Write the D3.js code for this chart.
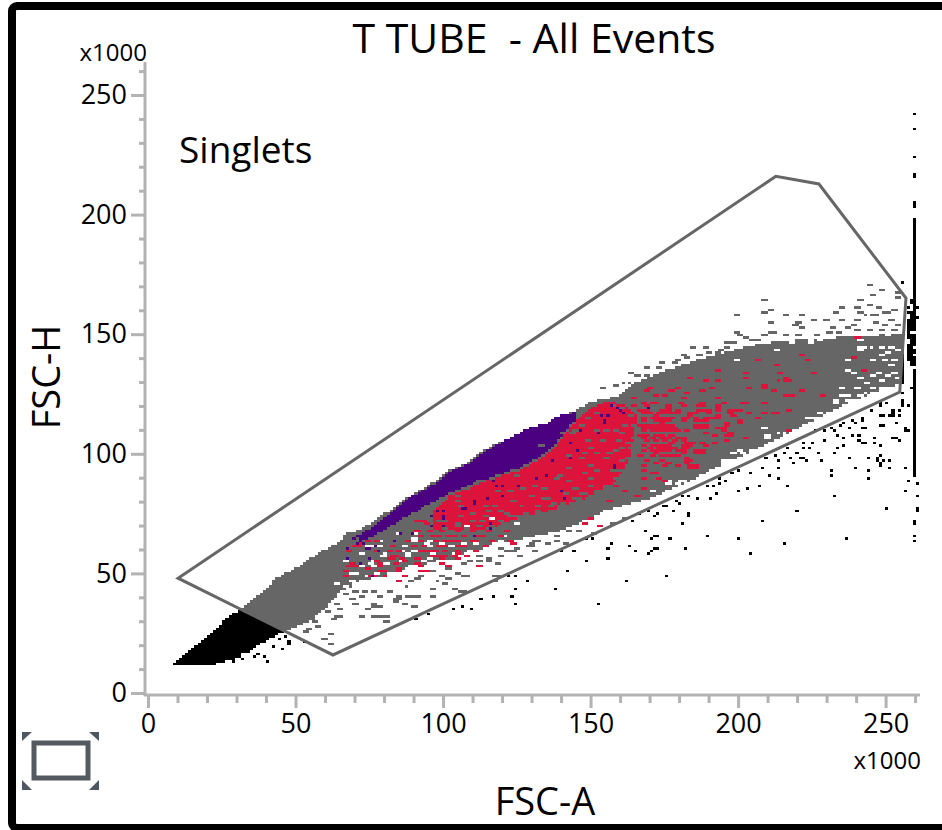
<!DOCTYPE html>
<html>
<head>
<meta charset="utf-8">
<script src="https://cdn.jsdelivr.net/npm/d3@7"></script>
<style>
html, body { margin: 0; padding: 0; background: #fff; }
svg { display: block; }
text { font-family: "Open Sans", "Noto Sans", sans-serif; fill: #000; white-space: pre; }
.axis path { display: none; }
.axis line { stroke: #b3b3b3; stroke-width: 3; }
.axis text { font-size: 27px; font-family: "Open Sans", "Noto Sans", sans-serif; fill: #000; }
</style>
</head>
<body>
<svg id="plot" width="942" height="830"></svg>
<script>
// all values in thousands (FSC-A, FSC-H)
var titleText = 'T TUBE  - All Events';
var gateName = 'Singlets';
var xLabel = 'FSC-A';
var yLabel = 'FSC-H';
var scaleNote = 'x1000';
var majorTicks = [0, 50, 100, 150, 200, 250];
var minorTicks = [10, 20, 30, 40, 60, 70, 80, 90, 110, 120, 130, 140, 160, 170, 180, 190, 210, 220, 230, 240, 260];

var gate = [[10.2, 48], [212.8, 216], [227.4, 212.8], [256.9, 165.1], [254.8, 125.8], [62.7, 15.9]];

// outline of the solid cloud of events
var cloudTop = [[8.1, 11.7], [10.8, 14.2], [14.2, 18], [17.6, 21.3], [21, 25.1], [24.4, 28.4], [27.8, 32.6], [31.2, 34.7], [34.6, 38], [38, 41.8],
  [43.7, 48.1], [49.1, 51.4], [58.3, 58.9], [64, 62.7], [67.8, 66.9], [71.8, 68.1], [82, 76.5], [87.8, 81.5], [92.2, 84.9], [99, 89.9],
  [102.3, 93.2], [110.1, 97.4], [113.5, 101.6], [121.7, 105.8], [128.4, 110], [135.2, 112.9], [139.6, 116.2], [144, 117.5], [148.8, 121.2], [160, 124.6],
  [164.4, 129.6], [175.9, 135], [189.4, 140.5], [204, 145], [216.5, 147.5], [232.1, 148.5], [252.5, 150], [255.8, 150]];
var cloudBottom = [[8.1, 11.7], [22, 11.7], [31.2, 15], [36.9, 19.2], [44.7, 25.1], [53.9, 29.3], [60.7, 36.4], [65, 42.2], [71.8, 46], [78.6, 48.5],
  [85.4, 51.4], [95.6, 54.3], [106.7, 56.9], [118.3, 62.7], [129.4, 65.2], [140.6, 68.1], [155.5, 76.5], [171.1, 81.9], [187.1, 90.7], [198.2, 97.4],
  [209.8, 104.1], [220.9, 110.8], [232.1, 118.3], [243.6, 124.6], [253.8, 128.8], [255.8, 128.8]];

var purpleTop = [[71, 66], [76.2, 69.4], [82, 75.3], [87.8, 81.5], [92.2, 84], [99, 89], [102.3, 92.4], [110.1, 96.6], [113.5, 100.8], [121.7, 105.8], [128.4, 110.4], [135.2, 112.9], [139.6, 116.2], [145.4, 117.5]];
var purpleBottom = [[72, 63], [78.6, 67], [84.4, 71.5], [93.2, 77.8], [102.3, 83.6], [110.1, 87.8], [118.3, 91.1], [126.1, 94.1], [132.8, 98.7], [137.2, 102.8], [142, 110], [145.4, 115]];

var redTop = [[97, 76], [102.3, 82.5], [110.1, 86.8], [118.3, 90.1], [126.1, 93.1], [132.8, 97.7], [137.2, 101.8], [142, 109], [145.4, 114], [150, 119], [156, 122], [162, 120], [166, 116]];
var redBottom = [[97, 68], [103.4, 68.1], [110.1, 68.1], [118.3, 69.4], [126.1, 73.6], [137.2, 76.5], [148.8, 81.9], [158, 88], [163, 97], [166, 116]];

var stripCol = [[260.2, 90.3, 196.5]];
var blobCols = [[257.3, 139, 156], [258.3, 138, 158], [259.3, 137, 160]];

// single events outside the solid cloud, grey inside the gate, black outside
var looseEvents = [
  [250.9,121.8],[256,121.4],[248,120.4],[244.7,118.3],[252.6,117.6],[254.8,118.3],[248,115.8],[249.2,115.8],[251.4,116.2],[242.4,114.8],[239,113.4],[240.2,113],[253.7,113],[248,112],[249.2,112],[234.5,112],[235.6,112.5],[242.4,110.6],[237.9,110.6],[231.1,110.6],[232.2,109.5],[228.9,110],[257.1,110],[226,109.3],[238.5,107.9],[241.3,108.1],[233.4,107.2],[235.6,106.9],[245.8,106.9],[253.1,106.9],[254.3,105.8],[241.3,105.8],[242.4,104.4],[228.9,105.8],[222,104.4],[224.9,104.7],[235.6,103.3],[245.8,104.4],[248,103.3],[222,102.3],[219.8,100.2],[216.4,101.9],[224.1,101.9],[233.9,101.9],[227.5,100.6],[232.8,100.6],[215.3,100.6],[213,99.5],[248,99.5],[209.6,98.1],[217.6,98.1],[220.9,98.1],[222,98.1],[237.3,98.1],[243.8,98.1],[246.9,98.1],[246.9,96.7],[214.2,96.7],[218.7,96],[223.2,96.7],[228.6,96.7],[249.2,96.7],[251.4,96.7],[248,95.3],[208.7,94.3],[214.2,94.3],[240.4,94.3],[251.2,94.3],[256.6,94.3],[200.4,93],[231.7,93],[243.8,93],[204.7,91.5],[198.1,91.5],[231.7,91],[210.1,90.4],[213.3,89.6],[243.8,89.6],[193.8,89.9],[196.1,89],[257.7,88.5],[193.8,87.4],[191.6,86.5],[189.3,86.5],[207.8,87.1],[216.6,87.1],[203.4,85.6],[200.4,84.2],[256.6,84.9],[192.7,83.5],[180.8,82.4],[183.1,82.1],[232.9,82.1],[186.1,81],[190.5,81],[178.6,80],[179.7,79.6],[175.3,78.4],[169.9,76.1],[177.7,75.8],[219.7,75.8],[250.2,77.2],[172.2,74.5],[183.1,74.5],[208.7,72],[180.7,70.9],[168.7,67.7],[172.2,66],[171,65],[176.5,65],[189.5,66],[200.4,65],[237.2,65],[215.5,62.6],[172.2,60],[182,60],[169.9,58.8],[204.7,58.8],
  [95.3,32.8],[102.9,35.3],[106.1,36.6],[109.4,35.3],[112.8,39.1],[116.8,40.2],[123.5,40.2],[124.5,37.8],[152.7,37.8],[116.8,46.2],[118.1,48.9],[122.4,48.9],[124.5,48.9],[128.9,46.2],[124.5,43.7],[138.5,43.7],[162.5,46.2],[175.4,48.9],[141.9,51.4],[127.8,52.8],[148.1,55.1],[156,56.2],[139.7,58.9],[144,58.9],[156,60],[157.2,62.5],[163.6,61.4],[165.7,58.9],[170.2,58.9],[172.4,60],[182,60],[150.6,65],[169,67.8],[171.1,65],[172.4,66],[176.7,65],[189.6,66],[180.9,70.9],[164.5,72],[183.2,74.6],[172.4,74.6],[169.9,75.9],[177.7,75.9],[166.8,74.6],[175.4,78.5],[161.4,73.4],[157.2,70.9],[186.2,80.9],[190.5,80.9],[179.2,80.6],[180.9,82.3],[183.2,82.3],[192.8,83.4],[189.4,86.9],[191.6,86.9],
  [260.2,241.6],[260.2,235.4],[260.2,224],[260.2,216.5],[260.2,215.5],[260.2,205],[260.2,204],[260.2,203],[260.2,198],[260.5,87.4],[260.5,82],[260.5,77],[260.5,76],[259.4,71.5],[259.4,70.5],[259.4,66],[259.4,64],
  [259.4,131.5],[258.3,128],[259.4,128.7],[256,125.9],[259.9,122.7],[256,122.4],[255.4,120.3],[257.7,120.3],[250.9,121.7],[248.1,121],[252,118.3],[254.9,118.3],[260.3,118.3],[248.1,115.5],[252,116.2],[254.6,115.5],[242.4,114.4],[253.5,113],[248.3,111.8],[256.6,110.6],[257.7,109.2],[242.7,110.6],[241.3,107.8],[245.8,106.8],[252.6,106.8],[254.6,105.4],[245.8,104.3],[242.7,104.3],[248.1,102.9],[260.3,101.8],[243.8,98],[247,98],[248.1,99.4],[248.1,95.7],[251.5,96.8],[251.2,94.3],[256.7,94.3],[243.8,93.2],[243.8,89.7],[257.7,88.4],[256.7,84.8],[250.3,77.1],
  [255.6,172.2],[258.9,163.8],[257.8,161.2],[261,161.2],[259.2,163.7],[257.8,158.7],[259.2,157.3],[261,157.3],
  [42.3,19.1],[45.4,18],[47.6,21.5],[48.2,20.8],[38.9,15.5],[40,13],[35.7,15.5],[37.1,16.6],[29.2,13],[26.9,14.1],[31.2,15.2],[32.3,14.1],[52.7,21.4],[44.2,22.2],[47,23.5],[91.1,30.5],
  [65.1,34.7],[63.4,37.5],[68.5,38.9],[71.9,40.3],[73.6,34.7],[65.1,31.9],[76.4,37.5],[78.7,36.1],[83.2,38.9],[84.3,39.6],[87.7,40.3],[90,40.3],[87.1,37.5],[79.8,31.9],[80.9,42.4],[76.4,43],[73,43],[70.2,43],[66.2,41.7],[86.6,45.1],[91.1,47.9],[88.8,47.2],[92.2,48.6],[95.6,43.8],[101.8,47.9],[99,49.3],[104.1,50],[105.8,42.8],[108,49.3],[117.1,49.3],[117.1,47.2],[96.2,50.7],[101.3,52.1],[106.3,54.2],[108.6,54.9],[111.4,57.7],[114.8,55.6],[118.8,57],[118.2,54.2],[121.6,59.8],[125.5,57.7],[124.4,60.5],[129.5,62.6],[131.8,63.3],[135.2,62.6],[138.5,63.3],[130.6,59.8],[128.4,61.2],
  [95.6,43.7],[96.2,40.2],[106.3,42.3],[102.9,43.7],[100.1,45.8],[106.3,49.3],[97.9,47.2],[108.6,55.5],[112,55.5],[115.4,56.2],[119.1,56.9],[111.4,57.6],[125.5,57.6],[123.8,59.7],[119.3,60.4],[129.5,61.1],[135.1,62.5],[138.5,63.2],[140.8,62.5],[131.2,63.2],[145.3,67.4],[148.7,64.6],[138.5,66],[141.9,67.4],[150.4,66.7],
  [58.9,22.8],[61.7,24.2],[61.7,20.3],[54.9,31.2],[52.7,25.6],[57.2,27.7],[56.1,29.8],[53.8,27],[64,31.9],[62.3,30.5],[60.6,34],[64,37.5],[61.1,43],[71.9,31.9],[75.8,31.9],[78.1,31.9],[80.4,29.8],[80.4,31.9],[73.6,34.7],[76.4,36.1],[69.6,37.5],[84.3,40.3],[86.6,37.5],[83.2,38.2],[87.7,40.3],[90,36.1],[78.7,40.3],[91.1,40.3],
  [207.9,163.8],[208,158.8],[210,160.2],[199.3,157.6],[215.6,157.6],[221,157.6],[225.3,156.3],[210,155],[219.9,155],[229.7,156.3],[235.1,161.3],[240.5,163.8],[243.7,162.7],[245,166.4],[243.7,170.2],[248.1,168.8],[253.5,167.4],[253.5,165],[233,158.8],[239.4,161.3],[240.5,158.8],[247,161.3],[252.3,160.2],[249.3,158.8],[250.4,158.8],[245.9,157.6],[243.6,157.6],[240.4,156.3],[235.1,156.3],[251.3,156.3],[238.5,153.7],[236.3,152.5],[245.9,154.9],[249.3,153.7],[253.8,153.7],[218.7,153.7],[221,152.5],[231.2,152.5],[230,151.1],[199.3,151.1],[200.4,149.7],[210.8,151.1],[212,150.4],[208.6,149.7],[202.5,148.7],[204.6,147.6],[196.1,146.2],[196.1,144.1],[198.4,146.2],[192.8,142.7],[184.3,144.1],[188.6,144.1],[186.5,141.3],[180.9,141.3],[179.2,139.2],[173.5,137.9],[172.4,135.8],[169,135.8],[162.8,133.9],[165.1,132.3],[168.5,132.3],[161.7,130.2],[158.3,128.8],[153.8,127.4],
  [234,151],[240,152],[244,151.5],[248,152],[252,151.5],[226,150],[216,149.5],[220,150],[206,147],[194,143],[178,138],[182,140],[190,142.5]
];

// gaps inside the cloud
var whiteSpecks = [
  [224.4,146.2],[218.2,146.2],[213.1,143.4],[199,139.2],[241.3,143.4],[243.6,144.8],[248.7,141.3],[250.4,142.7],[252.6,139.2],[253.8,143.4],[251.5,136.5],[236.3,135.1],[240.8,131.6],[243,129.5],[244.7,133],[248.1,130.9],[250.4,132.3],[253.8,131.6],[240.2,128],[243.6,125.3],[241.3,124.6],[248.7,128],[252.6,128],[236.8,123.9],[234.6,124.6],[232.3,121.8],[239.1,122.5],[241.3,120.4],[234.6,119],[231.2,117.6],[228.9,114.1],[226.7,112],[225.5,114.9],[222.1,111.4],[224.4,109.3],[219.9,107.2],[209.7,107.2],[208.6,110.7],[218.7,110],[214.2,104.4],[213.1,101.6],[209.1,102.3],[204,101.6],[200.7,100.2],[198.4,100.2],[201.2,97.4],[194.4,96],[195,93.2],[198.4,93.2],[201.8,96.7],[187.1,90.4],[181.5,86.3],[179.2,87.7],[175.8,89],[170.2,84.9],[176.9,84.9],
  [241.3,144.8],[248.1,144.8],[251.5,144.8],[236.8,139.2],[244.7,139.2],[249.3,139.2],[239.1,133.7],[247,133.7],[252.6,133.7],[234.6,128],[244.7,128],[250.4,128],[232.3,122.5],[236.8,122.5],[243.6,122.5],[217.6,147.6],[224.4,147.6],[227.8,147.6],[241.3,147.6],[224.4,149.7],[250.4,149.7],
  [63.4,45.8],[67.4,43.8],[69.6,45.8],[71.9,47.2],[68.5,50],[72.4,47.2],[74.1,49.3],[76.4,47.9],[79.2,47.2],[82,50],[84.9,49.3],[80.3,54.2],[75.3,54.2],[88.3,50.7],[90.5,53.5],[87.7,57],[79.2,57.7],[90,59.8],[94.5,56.3],[97.9,54.9],[99.6,54.2],[104.1,57.7],[106.3,57.7],[103.5,61.2],[108.6,59.8],[106.9,62.6],[110.3,62.6],[99,62.6],[93.9,62.6],[86,59.8],[75.3,61.9],[78,64],[87.1,61.9],[91.1,67.5],[90,64.7],[112,65.4],[111.4,59.8],[117.1,62.6],[118.8,63.3],
  [107.5,69.5],[115.9,73],[123.9,70.9],[120.5,65.4],[126.1,73.7],
  [74.1,61.2],[78.7,61.2],[86.6,61.2],[94.5,61.2],[101.3,61.2],[71.9,58.4],[79.8,58.4],[87.7,58.4],[95.6,58.4],[103.5,58.4],[108,58.4],[66.2,55.6],[76.4,55.6],[85.4,55.6],[93.4,55.6],[101.3,55.6],[106.9,55.6],[71.9,52.8],[76.4,52.8],[88.8,52.8],[94.5,52.8],[99,52.8],[104.7,52.8],[69.6,50],[77.5,50],[80.9,50],[88.8,50],[95.6,50],[102.4,50],[68.5,47.2],[73,47.2],[79.8,47.2],[86.6,47.2],[93.4,47.2],[99,47.2],[66.8,44.4],[70.8,44.4],[78.7,44.4],[85.4,44.4],[90,64],[94.5,64],[84.3,66.8],[90,66.8],
  [195,96.7],[197.2,96.7],[193.8,93.9],[191,92.5],[187,89],[181.4,88.3],[183.7,87.6],[176.3,87.6],[179.7,88.3],[170.1,84.9],[172.4,82],[170.1,80.7],[199.5,101.6],[205.1,100.9],[208.5,110.6],[209.6,106.9],[213,104.4],[214.2,108.6],[219.8,107.2],[222,111.3],[225.5,112],[223.2,114.8],[227.7,116.9],[232.8,121.1],[234.5,118.3],[237.9,121.1],
  [38,20.8],[36.9,18.7],[34.6,16.3],[32.3,16.6],[39.1,18.7],
  [258.3,150.6],[259.4,144.8],[257.2,147.7],[257.2,146.6],[259.4,141]
];

var greySpecks = [
  [104.7,80.7],[108,85.6],[111.4,88.4],[104.1,82.1],[130.6,86.3],[141.9,88.4],[134,81.4],[137.4,79.3],[131.8,78.6],[146.5,83.5],[149.3,89.8],[152.1,92.6],[154.4,98.1],[148.2,105.8],[144.2,110],[139.7,108.6],[155.5,86.3],[157.8,87.7],[151,82.1],[154.4,82.1],[158.9,82.1],[144.2,77.9],[138.6,77.9],[132.9,75.1],[126.1,73.7],[121.6,75.1],[117.1,77.9],[113.7,73.7],[109.2,72.3],[104.7,70.9],[112.6,71.6],[119.3,71.6],[128.4,70.9],[136.3,72.3],[141.9,75.1],[148.7,77.9],[156.6,78.6],[158.9,93.2],[158.9,105.8],[141.9,98.8],[132.9,103],[123.9,90.5],
  [131.8,78.5],[134.6,81.3],[145.3,81.3],[152.1,82],[156,79.2],[160,82],[140.8,83.4],[128.4,72.3],[122.7,74.4],[119.3,75.8],[137.4,76.5],[149.8,86.2],[143,75.1],
  [160.5,108.6],[165,108.6],[165.6,104.4],[163.4,97.4],[160,97.4],[156.6,93.2],[159,89],[157.7,101.6],[161,112],[162,104],[155,110],[152,100],[150,95],[147,92],[144,86],[139,91],[127,86],[123,80],[115,76],[106,74],[100,72],
  [100,69],[104,69.5],[108,69],[112,70],[116,70],[120,71],[124,74],[128,75],[132,76],[136,78],[140,79],[144,81],[148,83],[152,85],[155,87],[158,90],[160,93],[162,98],[163,102],[164,107],[164,112],[163,116],[160,119],[157,120.5],[152,117.5],[149,115],[146,112],[143,109],
  [110,75],[114,78],[118,84],[122,84],[126,78],[130,82],[134,86],[138,90],[142,94],[146,98],[150,102],[154,106],[158,110],[152,110],[148,100],[156,100],[160,102],[105,78],[100,76],[98,72]
];

// red events by row: [FSC-H, [FSC-A ...]]
var redRows = [
  [121.8, [167.8, 170.1, 171.8, 180.3, 187, 195, 201.2, 208.5]],
  [120.4, [168.4, 176.3, 181.4, 185.9, 192.7]],
  [118.3, [166.7, 169, 173.5, 175.7, 178.6, 186.5, 189.9, 192.7, 197.2, 199.5, 216.4]],
  [116.9, [167.8, 169.5, 172.4, 176.3, 179.1, 183.1, 185.3, 189.9, 197.2, 203.4, 207.9, 211.9]],
  [114.8, [167.3, 170.1, 172.4, 174.6, 176.9, 180.8, 182.5, 184.8, 188.2, 191, 192.7, 206.8]],
  [113.4, [167.8, 171.2, 173.5, 176.3, 181.4, 185.3, 187, 188.2, 200]],
  [112.1, [166.7, 168.4, 170.1, 172.9, 175.2, 177.4, 185.3, 187, 188.2, 196.1]],
  [110.6, [167.3, 169.5, 171.8, 174, 176.3, 178, 185.3, 187, 192.7, 195]],
  [109.3, [167.8, 170.7, 172.9, 175.2, 178.6, 182]],
  [107.9, [166.7, 169, 171.8, 174, 176.9, 191.6, 196.6]],
  [106.5, [167.8, 170.1, 173.5, 176.3, 178.6, 181.4]],
  [105.1, [169, 171.8, 174.6, 178, 181.4, 196.1]],
  [103.7, [167.3, 170.1, 172.9, 176.3, 181.4, 183.1]],
  [102.3, [169.5, 172.4, 175.2, 178, 180.8]],
  [100.9, [167.8, 170.7, 173.5, 176.3, 180.8, 187.6, 184.8]],
  [99.5, [166.7, 170.1, 173.5, 175.2, 176.9]],
  [97.4, [168.4, 174, 182]],
  [96, [171.2, 176.3, 182.5]],
  [94.6, [167.3, 175.2, 178.6, 183.1, 184.8]],
  [92.1, [170.1, 171.2]],
  [89.7, [167.8, 172.4]],
  [86, [167.8]],
  [75.8, [100.1, 104.7]],
  [73.7, [95.6, 99]],
  [70.9, [93.9, 97.9, 100.1]],
  [68.2, [91.1, 94.5, 99, 104.7]],
  [68.1, [94.5, 99, 104.6, 109.2, 114.8, 121.6]],
  [66, [92.2, 97.9, 103.5, 110.3, 95.6, 101.2, 106.9, 113.1, 119.3]],
  [64, [73.6, 77, 87.7, 92.2, 96.7, 102.4, 110.3, 115.9, 122.7]],
  [61.8, [70.8, 82, 90, 97.9, 104.7, 92.8, 100.1, 106.3, 114.2]],
  [59.5, [67.4, 77.5, 84.3, 92.2, 100.1, 93.9, 97.3, 104.6, 110.3]],
  [57.6, [96.2, 99, 103.5, 108]],
  [56.3, [80.9, 82.6, 91.1, 99, 104.1]],
  [54.5, [69.1, 78.7, 83.2, 91.1, 99.5]],
  [51.4, [66.8, 78.1, 79.8, 84.3, 92.2, 93.9]],
  [48.6, [66.8, 74.7, 86.6]],
  [46.5, [84.3]]
];

var redSpecks = [
  [72.4,62.6],[69.6,61.2],[77,63.7],[77,59.1],[67.4,52.5],[66.8,48.6],[69.6,53.5],[74.1,52.1],[78.7,52.8],[79.2,51.4],[77,54.9],[81.5,59.8],[82,57],[83.2,57],[85.4,56.3],[84.3,52.1],[79.8,48.6],[75.8,48.6],[84.3,46.5],[87.7,63.7],[91.6,63.3],[92.8,61.2],[87.1,54.9],[92.2,53.5],[93.9,51.4],[97.3,57.7],[99,57.7],[100.7,57.7],[101.8,52.8],[104.6,58.4],[111.4,52.5],[108,57.7],[95.6,59.8],[90.5,72.3],[92.8,71.6],[96.7,69.5],[98.4,65.6],[100.7,63.3],[96.7,65.4],[94.5,68.2],[91.6,65.4],[104.6,64],[109.2,64],[113.7,61.9],[123.3,62.6],
  [147.2,70.9],[152.7,69.8],[149.3,73.4],[165.7,82.7],[175.3,88.3],[161.1,84.8],[158.3,86.9],[155.5,80.6],
  [240.4,148.7],[221,141.5],[223.3,139.2],[238.4,140.4],[205.9,139],[212.4,136.5],[242.5,135.3],[192.8,135.3],[202.5,134.1],[213.3,134.1],[225.2,134.1],[183.7,131.6],[201.6,131.6],[215.4,131.6],[216.5,130.3],[214.2,130.3],[192.2,130.3],[188.6,130.3],[208.9,129],[207.9,127.8],[203.5,127.8],[190.5,127.4],[179.2,127.8],[221,126.6],[211.3,126.6],[187.3,126.6],[176.6,126.6],[169.9,127.8],[169,126.6],[215.4,124],[217.6,124],[228.6,124],[192.2,122.9],[181.4,122.9],[164.5,123.2],[174.3,124],[171.3,124],[182,125.3],[195,121.5],[201.6,121.5],[187.1,120.4],[180.3,121.5],[175.8,119],[171.8,121.5],[167.3,121.5],[163.9,120],[197,117.6],[199.3,118.2],[208,116.9],[212.4,116.9],[216.7,118.2],[203.5,116.9],[192.8,119],[187.1,118.3],[189.6,118.6],[198.1,115.5],[192.8,115.5],[183.7,116.2],[176.9,117.6],[173.5,116.9],[169.6,116.9],
  [187.7,113.4],[187.7,112],[188.8,113.4],[188.8,112],[186.5,112],[187.7,110.7],[188.8,110.7],
  [199.8,113],[195.9,113],[192.8,110.7],[195,109.3],[197,108.3],[195.9,107.2],[191.6,107.2],[202.5,106.9],[216.7,109.3],[188.6,108.3],[191.6,104.4],[187.1,104.4],[188.6,103],[184.3,104.4],[182,104.4],[182.6,102.3],[181.5,100.2],[187.1,100.5],[184.8,100.5],[182,98.1],[183.1,96.7],[178.6,101.6],[178.6,98.8],[176.9,104.4],[176.4,107.2],[176.9,111.4],[176.9,114.8],[174.7,111.4],[172.4,107.2],[174.7,103],[171.8,100.2],[173.5,97.4],[169,97.4],[175.8,96],[167.9,93.2],[170.7,92.1],[172.4,89.8],[175.2,88.4],[167.9,89.8],[165.6,82.8],[185.4,94.4],[183.4,94.4],
  [167.8,114.1],[169,110.6],[167.8,107.2],[171.2,115.5],[173.5,112.7],[175.7,114.1],[176.9,110],[172.4,107.2],[174.6,105.8],[170.7,103.7],[176.3,102.3],[167.8,101.6],[172.4,101.6],[174,110],[170.1,109.3],[178,105.8]
];

var purpleSpecks = [
  [67.4,56.3],[67.9,60],[73,62.6],[73.6,60],[75.3,60],[71.3,66],[72.4,54.2],[75.8,48.6],[78.7,59.1],[74.7,56.3],[77.5,61.2],[83.2,63.3],[90,66.8],[85.4,66.8],[95.6,69.5],[100.7,70.2],[100.7,73],[95.6,73.7],[115.9,70.9],[115.9,68.4],[110.3,66],[106.9,77.2],[110.3,79.3],[100.7,76.5],[97.9,76.5],[70.2,64.7],[70.5,62.6],
  [157.2,120.3],[159.1,119],[160.3,118.3],[161.4,116.9],[169.9,119],[153.8,115.5],[156,115.5],[154.9,113],[157.9,94.4],
  [143,104.4],[143,98.1],[145.3,100.9],[137.4,96.7],[135.2,91.1],[131.8,89.8],[125.6,86.3],[120.5,82],[117.1,89],[114.8,89.8],[139.7,84.9],[140.8,81.4],[120.5,86.3],[118.2,86.3],[114.8,81.4],[110.3,80],[107.5,77.2],[100.1,73.7],[146.5,109.3],[153.2,108.6],[154.9,113.5],[157.8,94.6]
];

var binK = 1.05;
var GREY = '#666666', RED = '#dc143c', PURPLE = '#4b0082', BLACK = '#000000';

var svg = d3.select('#plot');
var xScale = d3.scaleLinear().domain([0, 262]).range([148, 921]);
var yScale = d3.scaleLinear().domain([0, 250]).range([693, 95]);

var cellMap = new Map();
var inGate = function(p) { return d3.polygonContains(gate, p); };
var keyOf = function(p) { return Math.floor(p[0] / binK) + ',' + Math.floor(p[1] / binK); };
var gateColour = function(p) { return inGate(p) ? GREY : BLACK; };
var nextCell = function(p) { return [p[0] + binK, p[1]]; };

function paintPolygon(poly, colourFn) {
    var xr = d3.extent(poly, function(d) { return d[0]; });
    var yr = d3.extent(poly, function(d) { return d[1]; });
    for (var i = Math.floor(xr[0] / binK); i <= xr[1] / binK; i++) {
        for (var j = Math.floor(yr[0] / binK); j <= yr[1] / binK; j++) {
            var c = [(i + 0.5) * binK, (j + 0.5) * binK];
            if (d3.polygonContains(poly, c)) cellMap.set(i + ',' + j, colourFn(c));
        }
    }
}

function paintColumn(col) {
    for (var y = col[1]; y <= col[2]; y += binK) cellMap.set(keyOf([col[0], y]), BLACK);
}

// most specks in the picture sit in runs two bins wide
function paintWide(p, colour) {
    cellMap.set(keyOf(p), colour);
    cellMap.set(keyOf(nextCell(p)), colour);
}

paintPolygon(cloudTop.concat(cloudBottom.slice().reverse()), gateColour);
looseEvents.forEach(function(p) {
    if (inGate(p)) paintWide(p, GREY);
    else cellMap.set(keyOf(p), BLACK);
});
stripCol.forEach(paintColumn);
blobCols.forEach(paintColumn);
paintPolygon(purpleTop.concat(purpleBottom.slice().reverse()), function() { return PURPLE; });
paintPolygon(redTop.concat(redBottom.slice().reverse()), function() { return RED; });
whiteSpecks.forEach(function(p) { cellMap.delete(keyOf(p)); cellMap.delete(keyOf(nextCell(p))); });
greySpecks.forEach(function(p) { paintWide(p, GREY); });
redSpecks.forEach(function(p) { paintWide(p, RED); });
redRows.forEach(function(r) { r[1].forEach(function(x) { paintWide([x, r[0]], RED); }); });
purpleSpecks.forEach(function(p) { cellMap.set(keyOf(p), PURPLE); });

var paths = {};
cellMap.forEach(function(colour, key) {
    var ij = key.split(',').map(Number);
    var x0 = Math.round(xScale(ij[0] * binK)), x1 = Math.round(xScale((ij[0] + 1) * binK));
    var y0 = Math.round(yScale((ij[1] + 1) * binK)), y1 = Math.round(yScale(ij[1] * binK));
    if (!paths[colour]) paths[colour] = d3.path();
    paths[colour].rect(x0, y0, x1 - x0, y1 - y0);
});

[BLACK, GREY, PURPLE, RED].forEach(function(colour) {
    svg.append('path')
        .attr('d', paths[colour].toString())
        .attr('fill', colour)
        .attr('shape-rendering', 'crispEdges');
});

svg.append('polygon')
    .attr('points', gate.map(function(d) { return xScale(d[0]) + ',' + yScale(d[1]); }).join(' '))
    .attr('fill', 'none')
    .attr('stroke', '#666666')
    .attr('stroke-width', 3);

// axes
var yG = svg.append('g').attr('class', 'axis').attr('transform', 'translate(145,0)');
yG.append('g').call(d3.axisLeft(yScale).tickValues(minorTicks).tickSize(6).tickFormat(''));
yG.append('g').call(d3.axisLeft(yScale).tickValues(majorTicks).tickSize(14).tickPadding(4));
var xG = svg.append('g').attr('class', 'axis').attr('transform', 'translate(0,695)');
xG.append('g').call(d3.axisBottom(xScale).tickValues(minorTicks).tickSize(8).tickFormat(''));
xG.append('g').call(d3.axisBottom(xScale).tickValues(majorTicks).tickSize(13).tickPadding(6));
svg.append('line').attr('x1', 145).attr('x2', 145).attr('y1', 62).attr('y2', 696).attr('stroke', '#b3b3b3').attr('stroke-width', 3);
svg.append('line').attr('x1', 144).attr('x2', 920).attr('y1', 695).attr('y2', 695).attr('stroke', '#b3b3b3').attr('stroke-width', 3);

// labels
svg.append('text').attr('x', 534).attr('y', 53).attr('text-anchor', 'middle').style('font-size', '41px').text(titleText);
svg.append('text').attr('x', 179).attr('y', 163).style('font-size', '37px').text(gateName);
svg.append('text').attr('x', 545).attr('y', 815).attr('text-anchor', 'middle').style('font-size', '38px').text(xLabel);
svg.append('text').attr('transform', 'translate(60,377) rotate(-90)').attr('text-anchor', 'middle').style('font-size', '38px').text(yLabel);
svg.append('text').attr('x', 147).attr('y', 61).attr('text-anchor', 'end').style('font-size', '24px').text(scaleNote);
svg.append('text').attr('x', 921).attr('y', 769).attr('text-anchor', 'end').style('font-size', '24px').text(scaleNote);

// gate tool icon
var iconCorners = [[22, 732, 32, 732, 22, 741], [99, 732, 89, 732, 99, 741], [22, 790, 22, 780, 32, 790], [99, 790, 99, 780, 89, 790]];
svg.append('rect').attr('x', 34).attr('y', 743).attr('width', 54).attr('height', 35).attr('fill', '#fff').attr('stroke', '#555a61').attr('stroke-width', 5);
svg.selectAll('polygon.corner').data(iconCorners).enter().append('polygon')
    .attr('class', 'corner')
    .attr('points', function(d) { return d[0] + ',' + d[1] + ' ' + d[2] + ',' + d[3] + ' ' + d[4] + ',' + d[5]; })
    .attr('fill', '#4e5662');

// window frame, runs off the right edge
svg.append('rect').attr('x', 12).attr('y', 6).attr('width', 1000).attr('height', 822).attr('rx', 5)
    .attr('fill', 'none').attr('stroke', '#000').attr('stroke-width', 8);
</script>
</body>
</html>
